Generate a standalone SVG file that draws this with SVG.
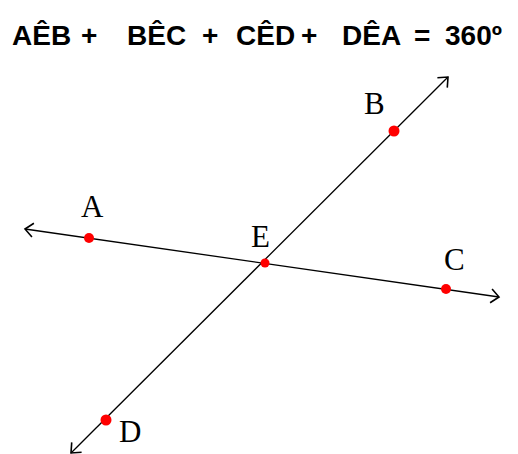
<svg xmlns="http://www.w3.org/2000/svg" width="518" height="454" viewBox="0 0 518 454">
<style>
.t{font-family:"Liberation Sans",Arial,sans-serif;font-weight:bold;font-size:28px;fill:#000}
.lbl{font-family:"Liberation Serif","Times New Roman",serif;font-size:31px;fill:#000}
.ln{stroke:#000;stroke-width:1.3;fill:none}
.pt{fill:#ff0000}
</style>
<defs>
<marker id="ah" markerUnits="userSpaceOnUse" markerWidth="20" markerHeight="20" refX="0" refY="0" viewBox="-10 -10 20 20" orient="auto-start-reverse" overflow="visible">
<path d="M-8,-7 L0,0 L-8,7" fill="none" stroke="#000" stroke-width="1.6"/>
</marker>
</defs>
<rect width="518" height="454" fill="#fff"/>
<g id="equation">
<text class="t" x="12" y="45">AÊB</text>
<text class="t" x="81" y="45">+</text>
<text class="t" x="127" y="45">BÊC</text>
<text class="t" x="202" y="45">+</text>
<text class="t" x="236" y="45">CÊD</text>
<text class="t" x="301" y="45">+</text>
<text class="t" x="342" y="45">DÊA</text>
<text class="t" x="414" y="45">=</text>
<text class="t" x="445" y="45">360º</text>
</g>
<g id="connectors">
<line class="ln" x1="25" y1="229" x2="499" y2="297" marker-start="url(#ah)" marker-end="url(#ah)"/>
<line class="ln" x1="71" y1="453" x2="448" y2="77" marker-start="url(#ah)" marker-end="url(#ah)"/>
</g>
<g id="A"><circle class="pt" cx="89" cy="238" r="5"/><text class="lbl" x="81" y="217">A</text></g>
<g id="B"><circle class="pt" cx="394" cy="131" r="5.5"/><text class="lbl" x="364" y="114">B</text></g>
<g id="E"><circle class="pt" cx="265" cy="263" r="4.5"/><text class="lbl" x="251" y="247">E</text></g>
<g id="C"><circle class="pt" cx="446" cy="289" r="5"/><text class="lbl" x="444" y="270">C</text></g>
<g id="D"><circle class="pt" cx="106" cy="420" r="5.5"/><text class="lbl" x="119" y="442">D</text></g>
</svg>
